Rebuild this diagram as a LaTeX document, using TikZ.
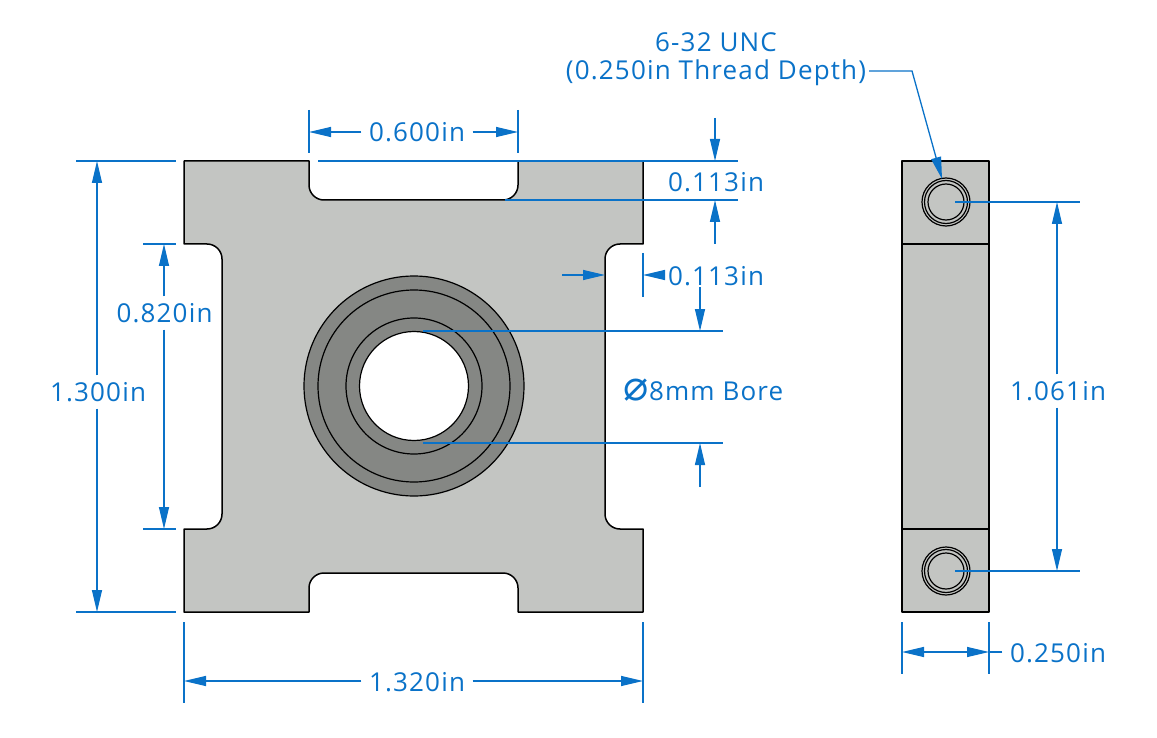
\documentclass[tikz,border=0pt]{standalone}
\usepackage{fontspec}
\setmainfont[LetterSpace=4.5]{Open Sans}
\newfontfamily\symbolfont{DejaVu Sans}
\usepackage{xcolor}
\usetikzlibrary{arrows.meta, positioning, calc}

\definecolor{dimblue}{HTML}{0A72C8}
\definecolor{platefill}{HTML}{C3C5C2}
\definecolor{ringfill}{HTML}{858784}

\begin{document}
\begin{tikzpicture}[x=1pt, y=-1pt]
		\tikzstyle{part}=[draw=black, line width=1.5pt, fill=platefill, line join=round]
		\tikzstyle{ring}=[draw=black, line width=1.2pt, fill=ringfill]
		\tikzstyle{thinedge}=[draw=black, line width=1.2pt]
		\tikzstyle{dimline}=[draw=dimblue, line width=1.3pt]
		\tikzstyle{dimarrow}=[dimline, -{Triangle[length=22pt, width=10pt]}]
		\tikzstyle{dimtext}=[text=dimblue, font=\fontsize{26}{30}\selectfont, inner sep=7.5pt, text height=18pt, text depth=0pt]
		
		\useasboundingbox (0,0) rectangle (1157,738);
		
		% front view
		\draw [part] (184,161) -- (309,161) [rounded corners=15pt] -- (309,200) -- (518,200) [sharp corners] -- (518,161) -- (643,161) -- (643,244) [rounded corners=15pt] -- (605,244) -- (605,529) [sharp corners] -- (643,529) -- (643,612) -- (518,612) [rounded corners=15pt] -- (518,573) -- (309,573) [sharp corners] -- (309,612) -- (184,612) -- (184,529) [rounded corners=15pt] -- (222,529) -- (222,244) [sharp corners] -- (184,244) -- cycle;
		
		\coordinate (borecenter) at (414,386);
		\draw [ring] (borecenter) circle (110);
		\draw [thinedge] (borecenter) circle (96);
		\draw [thinedge] (borecenter) circle (68);
		\draw [thinedge, fill=white] (borecenter) circle (54.5);
		
		% side view
		\draw [part] (902,161) rectangle (989,612);
		\draw [thinedge] (902,244) -- (989,244);
		\draw [thinedge] (902,529) -- (989,529);
		
		\coordinate (holetop) at (946,202);
		\coordinate (holebot) at (946,571);
		\foreach \hole in {holetop, holebot} {
			\draw [thinedge] (\hole) circle (24);
			\draw [thinedge] (\hole) circle (21.5);
			\draw [thinedge] (\hole) circle (18);
		}
		
		% labels
		\node (twidth) at (417,133) [dimtext] {0.600in};
		\node (theight) at (98,392) [dimtext] {1.300in};
		\node (tneck) at (164.5,313) [dimtext] {0.820in};
		\node (tlength) at (417,682) [dimtext] {1.320in};
		\node (tslot) at (716,183) [dimtext] {0.113in};
		\node (tside) at (716,276) [dimtext] {0.113in};
		\node (tbore) at (703.5,391) [dimtext] {{\symbolfont\fontsize{42}{42}\selectfont ⌀}8mm Bore};
		\node (tholes) at (1058,391) [dimtext] {1.061in};
		\node (tthick) at (1058,653) [dimtext] {0.250in};
		\node (tdepth) at (716,71) [dimtext, inner xsep=3pt] {(0.250in Thread Depth)};
		\node (tunc) at (716,43) [dimtext] {6-32 UNC};
		
		% width of top slot
		\coordinate (wl) at (309,132);
		\coordinate (wr) at (518,132);
		\draw [dimline] (309,110) -- (309,153);
		\draw [dimline] (518,110) -- (518,153);
		\draw [dimarrow] (twidth.west |- wl) -- (wl);
		\draw [dimarrow] (twidth.east |- wr) -- (wr);
		
		% overall height
		\draw [dimline] (76,161) -- (176,161);
		\draw [dimline] (76,612) -- (176,612);
		\coordinate (ht) at (97,161);
		\coordinate (hb) at (97,612);
		\draw [dimarrow] (ht |- theight.north) -- (ht);
		\draw [dimarrow] (hb |- theight.south) -- (hb);
		
		% neck height
		\draw [dimline] (143,244) -- (176,244);
		\draw [dimline] (143,529) -- (176,529);
		\coordinate (nt) at (164,244);
		\coordinate (nb) at (164,529);
		\draw [dimarrow] (nt |- tneck.north) -- (nt);
		\draw [dimarrow] (nb |- tneck.south) -- (nb);
		
		% overall length
		\draw [dimline] (184,622) -- (184,703);
		\draw [dimline] (643,622) -- (643,703);
		\coordinate (ll) at (184,681);
		\coordinate (lr) at (643,681);
		\draw [dimarrow] (tlength.west |- ll) -- (ll);
		\draw [dimarrow] (tlength.east |- lr) -- (lr);
		
		% slot depth
		\draw [dimline] (318,161) -- (738,161);
		\draw [dimline] (505,200) -- (738,200);
		\coordinate (st) at (715,161);
		\coordinate (sb) at (715,200);
		\coordinate (stend) at (715,118);
		\coordinate (sbend) at (715,244);
		\draw [dimarrow] (stend) -- (st);
		\draw [dimarrow] (sbend) -- (sb);
		
		% side notch depth
		\coordinate (nl) at (605,275);
		\coordinate (nlend) at (562,275);
		\coordinate (nr) at (643,275);
		\draw [dimline] (643,253) -- (643,297);
		\draw [dimarrow] (nlend) -- (nl);
		\draw [dimarrow] (tside.west |- nr) -- (nr);
		
		% bore diameter
		\draw [dimline] (423,331) -- (723,331);
		\draw [dimline] (423,443) -- (723,443);
		\coordinate (bt) at (700,331);
		\coordinate (bb) at (700,443);
		\coordinate (btend) at (700,287);
		\coordinate (bbend) at (700,487);
		\draw [dimarrow] (btend) -- (bt);
		\draw [dimarrow] (bbend) -- (bb);
		
		% hole spacing
		\draw [dimline] (955,202) -- (1080,202);
		\draw [dimline] (955,571) -- (1080,571);
		\coordinate (ct) at (1057,202);
		\coordinate (cb) at (1057,571);
		\draw [dimarrow] (ct |- tholes.north) -- (ct);
		\draw [dimarrow] (cb |- tholes.south) -- (cb);
		
		% thickness
		\draw [dimline] (902,622) -- (902,674);
		\draw [dimline] (989,622) -- (989,674);
		\coordinate (pl) at (902,652);
		\coordinate (pr) at (989,652);
		\draw [dimline] (tthick.west |- pr) -- (pr);
		\draw [dimline, {Triangle[length=22pt, width=10pt]}-{Triangle[length=22pt, width=10pt]}] (pl) -- (pr);
		
		% thread callout
		\coordinate (lbend) at (912,71);
		\coordinate (ltip) at (942,179);
		\draw [dimarrow] (tdepth.east) -- (lbend) -- (ltip);
		\end{tikzpicture}
\end{document}
